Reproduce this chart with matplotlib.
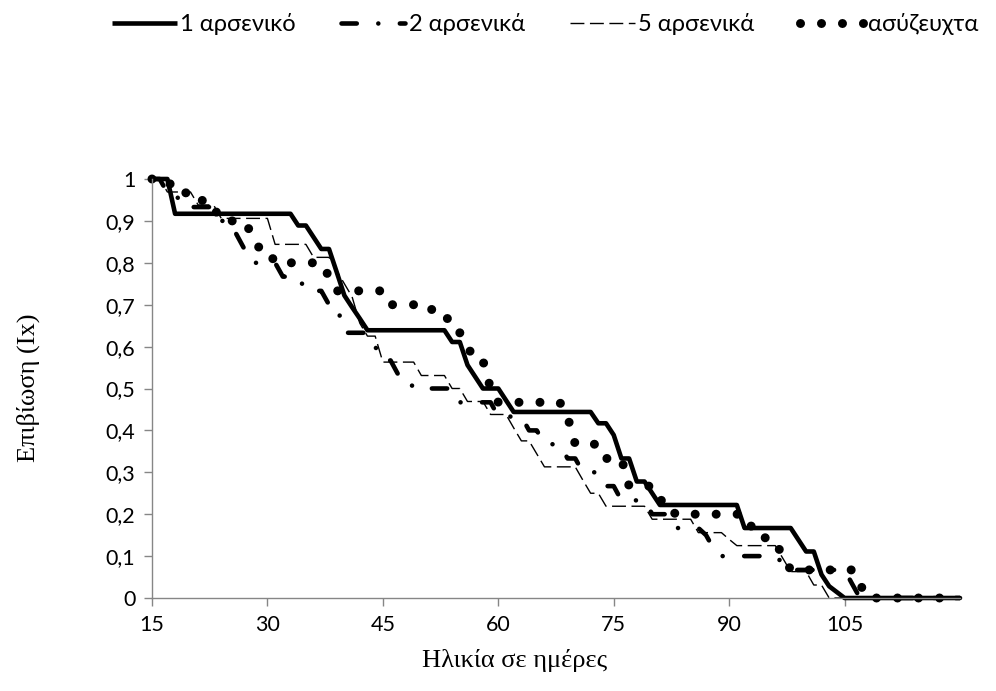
import matplotlib
matplotlib.use("Agg")
import matplotlib.pyplot as plt

plt.rcParams['lines.scale_dashes'] = False

# ---- data -------------------------------------------------------------
days = list(range(15, 121))

males_1 = [
    1.000, 1.000, 1.000, 0.917, 0.917, 0.917, 0.917, 0.917, 0.917, 0.917,
    0.917, 0.917, 0.917, 0.917, 0.917, 0.917, 0.917, 0.917, 0.917, 0.889,
    0.889, 0.861, 0.833, 0.833, 0.778, 0.722, 0.694, 0.667, 0.639, 0.639,
    0.639, 0.639, 0.639, 0.639, 0.639, 0.639, 0.639, 0.639, 0.639, 0.611,
    0.611, 0.556, 0.528, 0.500, 0.500, 0.500, 0.472, 0.444, 0.444, 0.444,
    0.444, 0.444, 0.444, 0.444, 0.444, 0.444, 0.444, 0.444, 0.417, 0.417,
    0.389, 0.333, 0.333, 0.278, 0.278, 0.250, 0.222, 0.222, 0.222, 0.222,
    0.222, 0.222, 0.222, 0.222, 0.222, 0.222, 0.222, 0.167, 0.167, 0.167,
    0.167, 0.167, 0.167, 0.167, 0.139, 0.111, 0.111, 0.056, 0.028, 0.014,
    0.000, 0.000, 0.000, 0.000, 0.000, 0.000, 0.000, 0.000, 0.000, 0.000,
    0.000, 0.000, 0.000, 0.000, 0.000, 0.000,
]

males_2 = [
    1.000, 1.000, 0.967, 0.967, 0.933, 0.933, 0.933, 0.933, 0.933, 0.900,
    0.900, 0.867, 0.833, 0.800, 0.800, 0.800, 0.800, 0.767, 0.767, 0.767,
    0.733, 0.733, 0.733, 0.700, 0.700, 0.633, 0.633, 0.633, 0.633, 0.600,
    0.567, 0.567, 0.533, 0.533, 0.500, 0.500, 0.500, 0.500, 0.500, 0.500,
    0.467, 0.467, 0.467, 0.467, 0.467, 0.433, 0.433, 0.433, 0.433, 0.400,
    0.400, 0.367, 0.367, 0.367, 0.333, 0.333, 0.300, 0.300, 0.300, 0.267,
    0.267, 0.233, 0.233, 0.233, 0.233, 0.200, 0.200, 0.200, 0.167, 0.167,
    0.167, 0.167, 0.150, 0.117, 0.100, 0.100, 0.100, 0.100, 0.100, 0.100,
    0.100, 0.100, 0.083, 0.067, 0.067, 0.067, 0.067, 0.067, 0.067, 0.067,
    0.067, 0.033, 0.000, 0.000, 0.000, 0.000, 0.000, 0.000, 0.000, 0.000,
    0.000, 0.000, 0.000, 0.000, 0.000, 0.000,
]

males_5 = [
    1.000, 1.000, 0.969, 0.969, 0.969, 0.969, 0.938, 0.938, 0.938, 0.906,
    0.906, 0.906, 0.906, 0.906, 0.906, 0.906, 0.844, 0.844, 0.844, 0.844,
    0.844, 0.813, 0.813, 0.813, 0.781, 0.750, 0.719, 0.656, 0.625, 0.625,
    0.563, 0.563, 0.563, 0.563, 0.563, 0.531, 0.531, 0.531, 0.531, 0.500,
    0.500, 0.469, 0.469, 0.469, 0.438, 0.438, 0.438, 0.406, 0.375, 0.375,
    0.344, 0.313, 0.313, 0.313, 0.313, 0.313, 0.281, 0.250, 0.250, 0.219,
    0.219, 0.219, 0.219, 0.219, 0.219, 0.188, 0.188, 0.188, 0.188, 0.188,
    0.188, 0.156, 0.156, 0.156, 0.156, 0.140, 0.125, 0.125, 0.125, 0.125,
    0.125, 0.125, 0.094, 0.063, 0.063, 0.063, 0.031, 0.031, 0.000, 0.000,
    0.000, 0.000, 0.000, 0.000, 0.000, 0.000, 0.000, 0.000, 0.000, 0.000,
    0.000, 0.000, 0.000, 0.000, 0.000, 0.000,
]

unmated = [
    1.000, 1.000, 1.000, 0.967, 0.967, 0.967, 0.967, 0.933, 0.933, 0.900,
    0.900, 0.900, 0.900, 0.867, 0.833, 0.833, 0.800, 0.800, 0.800, 0.800,
    0.800, 0.800, 0.800, 0.767, 0.733, 0.733, 0.733, 0.733, 0.733, 0.733,
    0.733, 0.700, 0.700, 0.700, 0.700, 0.700, 0.700, 0.667, 0.667, 0.667,
    0.633, 0.600, 0.567, 0.567, 0.500, 0.467, 0.467, 0.467, 0.467, 0.467,
    0.467, 0.467, 0.467, 0.467, 0.433, 0.367, 0.367, 0.367, 0.367, 0.333,
    0.333, 0.333, 0.267, 0.267, 0.267, 0.267, 0.233, 0.233, 0.200, 0.200,
    0.200, 0.200, 0.200, 0.200, 0.200, 0.200, 0.200, 0.200, 0.167, 0.167,
    0.133, 0.133, 0.100, 0.067, 0.067, 0.067, 0.067, 0.067, 0.067, 0.067,
    0.067, 0.067, 0.033, 0.000, 0.000, 0.000, 0.000, 0.000, 0.000, 0.000,
    0.000, 0.000, 0.000, 0.000, 0.000, 0.000,
]

series_labels = ['1 αρσενικό', '2 αρσενικά', '5 αρσενικά', 'ασύζευχτα']
x_ticks = [15, 30, 45, 60, 75, 90, 105]
y_ticks = [0, 0.1, 0.2, 0.3, 0.4, 0.5, 0.6, 0.7, 0.8, 0.9, 1]
y_tick_labels = ['0', '0,1', '0,2', '0,3', '0,4', '0,5', '0,6', '0,7', '0,8', '0,9', '1']
x_title = 'Ηλικία σε ημέρες'
y_title = 'Επιβίωση (Ιx)'

# ---- figure -----------------------------------------------------------
W, H = 996, 691
fig = plt.figure(figsize=(W / 100, H / 100), dpi=100)
ax = fig.add_axes([152 / W, 1 - 598 / H, 808 / W, 419 / H])

sans = ['Lato', 'DejaVu Sans']
serif = ['Liberation Serif', 'DejaVu Serif']

h1, = ax.plot(days, males_1, color='black', lw=3.3,
              solid_joinstyle='round', solid_capstyle='butt',
              label=series_labels[0], clip_on=False)
h2, = ax.plot(days, males_2, color='black', lw=3.3,
              dashes=[11, 15.5, 0.01, 15.5],
              dash_capstyle='round', dash_joinstyle='round',
              label=series_labels[1], clip_on=False)
h5, = ax.plot(days, males_5, color='black', lw=1.0,
              dashes=[10, 4], label=series_labels[2], clip_on=False)
h0, = ax.plot(days, unmated, color='black', lw=6.5,
              dashes=[0.01, 15.1], dash_capstyle='round',
              label=series_labels[3], clip_on=False)

ax.set_xlim(15, 120)
ax.set_ylim(0, 1)
ax.set_xticks(x_ticks)
ax.set_xticklabels([str(t) for t in x_ticks], family=sans, fontsize=15.5)
ax.set_yticks(y_ticks)
ax.set_yticklabels(y_tick_labels, family=sans, fontsize=15.5)

for s in ['top', 'right']:
    ax.spines[s].set_visible(False)
for s in ['left', 'bottom']:
    ax.spines[s].set_color('#868686')
    ax.spines[s].set_linewidth(1.0)
ax.tick_params(axis='both', direction='out', length=6, width=1.0,
               color='#868686', labelcolor='black')
ax.tick_params(axis='y', pad=6)
ax.tick_params(axis='x', pad=6)

fig.text(515 / W, 1 - 660 / H, x_title, family=serif, fontsize=19,
         ha='center', va='center')
fig.text(28 / W, 1 - 388 / H, y_title, family=serif, fontsize=19,
         ha='center', va='center', rotation=90)

fig.legend(handles=[h1, h2, h5, h0], labels=series_labels,
           loc='center', bbox_to_anchor=(545 / W, 1 - 24 / H), ncol=4,
           frameon=False, prop={'family': sans, 'size': 17},
           handlelength=2.75, handletextpad=0.15, columnspacing=1.9)

fig.savefig('out.png', dpi=100, facecolor='white')
